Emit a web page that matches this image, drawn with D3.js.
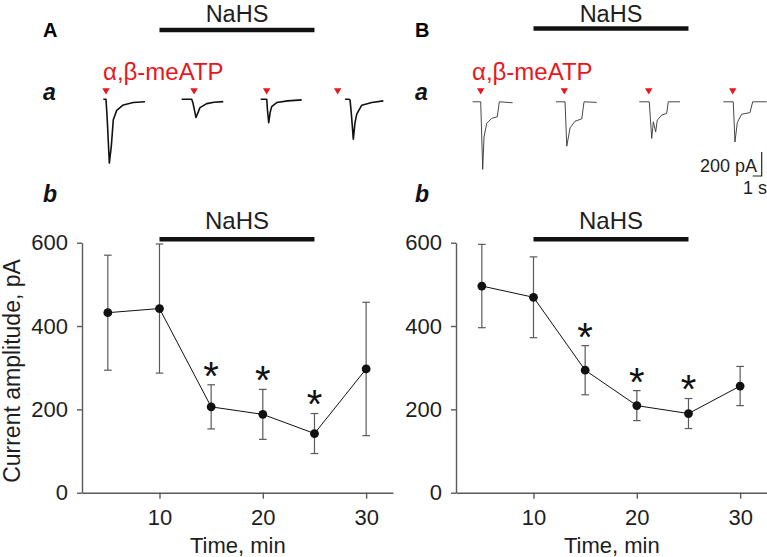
<!DOCTYPE html>
<html><head><meta charset="utf-8">
<script src="https://cdn.jsdelivr.net/npm/d3@7"></script>
<style>
html,body{margin:0;padding:0;background:#fff;}
svg{display:block;font-family:"Liberation Sans",Arial,Helvetica,sans-serif;}
</style></head>
<body>
<svg id="c" width="767" height="557"></svg>
<script>
// ---------- data ----------
const times = [5, 10, 15, 20, 25, 30];               // min
const meanA = [432, 442, 206, 188, 142, 297];        // pA
const semA  = [138, 155, 53, 60, 48, 160];
const meanB = [496, 469, 294, 209, 190, 256];
const semB  = [100, 97, 59, 36, 36, 47];
const sigA  = [15, 20, 25];
const sigB  = [15, 20, 25];
const nahsPeriod = [10, 25];
const yTicks = [0, 200, 400, 600];
const xTicks = [10, 20, 30];

// example current traces: [time (s) from sweep start, current (pA)]
const sweepStartA = [0, 8.71, 17.49, 26.86];
const stimA = [0.30, 10.08, 18.15, 26.04];
const tracesA = [
  [[0,0],[0.30,0],[0.44,-171],[0.67,-532],[0.89,-392],[1.11,-171],[1.49,-93],[2.22,-48],[3.33,-27],[4.63,-21]],
  [[0,0],[1.11,0],[1.25,-30],[1.59,-153],[2.03,-70],[2.78,-37],[3.6,-26],[4.62,-20]],
  [[0,0],[0.67,0],[0.75,-90],[0.89,-195],[1.05,-110],[1.22,-62],[1.78,-28],[3.0,-14],[4.56,-6]],
  [[0,0],[0.45,0],[0.56,-8],[0.70,-120],[0.92,-333],[1.10,-200],[1.30,-125],[1.86,-50],[2.97,-28],[4.26,-14]]
];
const sweepStartB = [0, 9.26, 18.51, 27.84];
const stimB = [0.89, 10.18, 19.56, 28.89];
const tracesB = [
  [[0,0],[0.89,0],[1.11,-563],[1.26,-292],[1.56,-180],[2.11,-138],[2.73,-125],[2.96,0],[4.44,-8]],
  [[0,0],[1.0,0],[1.19,-370],[1.56,-217],[2.11,-162],[2.86,-142],[3.11,0],[4.52,-5]],
  [[0,0],[1.11,0],[1.38,-305],[1.56,-167],[1.82,-250],[2.0,-153],[2.49,-111],[3.04,-97],[3.22,0],[4.52,0]],
  [[0,0],[1.11,0],[1.30,-335],[1.56,-173],[2.04,-104],[2.97,-90],[3.27,0],[4.82,0]]
];
const scaleBarPA = 200, scaleBarS = 1;

// ---------- drawing ----------
const svg = d3.select("#c");
const FONT = '"Liberation Sans",Arial,Helvetica,sans-serif';
const axisCol = "#5a5a5a", txtCol = "#1e1e1e", red = "#e8161d";

const y = d3.scaleLinear().domain([0, 600]).range([492.7, 242.7]);
const xA = d3.scaleLinear().domain([2.5, 32.6]).range([82, 393]);
const xB = d3.scaleLinear().domain([2.5, 32.6]).range([456, 767]);

// trace scales (1 s = 9 px, 200 pA = 24 px)
const tyScale = d3.scaleLinear().domain([0, -200]).range([0, 24]);
const txA = d3.scaleLinear().domain([0, 1]).range([103.3, 112.3]);
const txB = d3.scaleLinear().domain([0, 1]).range([472.7, 481.7]);

function panel(opts) {
  const {x, mean, sem, sig, tx, sweepStart, stim, traces, letter, letterX, traceBase, traceW, traceCol, topBarY, topLabelY, lblX} = opts;
  const g = svg.append("g");

  // panel letter
  g.append("text").attr("x", letterX).attr("y", 37).attr("font-size", 20).attr("font-weight", "bold")
    .attr("fill", "#000").text(letter);
  g.append("text").attr("x", letterX).attr("y", 100).attr("font-size", 23).attr("font-weight", "bold")
    .attr("font-style", "italic").attr("fill", "#111").text("a");
  g.append("text").attr("x", letterX).attr("y", 202).attr("font-size", 23).attr("font-weight", "bold")
    .attr("font-style", "italic").attr("fill", "#111").text("b");

  // top NaHS bar
  g.append("line").attr("x1", x(nahsPeriod[0])).attr("x2", x(nahsPeriod[1]))
    .attr("y1", topBarY).attr("y2", topBarY).attr("stroke", "#111").attr("stroke-width", 4.6);
  g.append("text").attr("x", (x(nahsPeriod[0]) + x(nahsPeriod[1])) / 2).attr("y", topLabelY)
    .attr("text-anchor", "middle").attr("font-size", 23.5).attr("fill", txtCol).text("NaHS");

  // agonist label
  g.append("text").attr("x", lblX).attr("y", 80).attr("font-size", 24).attr("fill", red).text("α,β-meATP");

  // stimulus markers
  const tri = d3.symbol().type(d3.symbolTriangle).size(24);
  g.selectAll(".stim").data(stim).join("path")
    .attr("d", tri).attr("fill", red)
    .attr("transform", d => `translate(${tx(d)},90.3) rotate(180)`);

  // traces
  traces.forEach((tr, i) => {
    const line = d3.line().x(d => tx(sweepStart[i] + d[0])).y(d => traceBase + tyScale(d[1]));
    g.append("path").attr("d", line(tr)).attr("fill", "none").attr("stroke", traceCol)
      .attr("stroke-width", traceW).attr("stroke-linejoin", "round");
  });

  // axes
  const ya = g.append("g").attr("transform", `translate(${x.range()[0]},0)`)
    .call(d3.axisLeft(y).tickValues(yTicks).tickSize(5).tickSizeOuter(0).tickPadding(9));
  const xa = g.append("g").attr("transform", `translate(0,${y(0)})`)
    .call(d3.axisBottom(x).tickValues(xTicks).tickSize(6).tickSizeOuter(0).tickPadding(11));
  [ya, xa].forEach(a => {
    a.selectAll("path,line").attr("stroke", axisCol).attr("stroke-width", 1.4);
    a.selectAll("text").attr("font-size", 22).attr("font-family", FONT).attr("fill", txtCol);
  });

  g.append("text").attr("x", (x(10) + x(30)) / 2 - 25).attr("y", 552.5).attr("text-anchor", "middle")
    .attr("font-size", 22).attr("fill", txtCol).text("Time, min");

  // bottom NaHS bar
  g.append("line").attr("x1", x(nahsPeriod[0])).attr("x2", x(nahsPeriod[1]))
    .attr("y1", 239.3).attr("y2", 239.3).attr("stroke", "#111").attr("stroke-width", 4.6);
  g.append("text").attr("x", (x(nahsPeriod[0]) + x(nahsPeriod[1])) / 2).attr("y", 228.5)
    .attr("text-anchor", "middle").attr("font-size", 24).attr("fill", txtCol).text("NaHS");

  // error bars
  const data = times.map((t, i) => ({t, m: mean[i], s: sem[i]}));
  const eb = g.append("g").attr("stroke", axisCol).attr("stroke-width", 1.2);
  data.forEach(d => {
    eb.append("line").attr("x1", x(d.t)).attr("x2", x(d.t)).attr("y1", y(d.m - d.s)).attr("y2", y(d.m + d.s));
    [d.m - d.s, d.m + d.s].forEach(v => eb.append("line").attr("x1", x(d.t) - 3.8).attr("x2", x(d.t) + 3.8)
      .attr("y1", y(v)).attr("y2", y(v)));
  });

  // mean line and dots
  g.append("path").attr("d", d3.line().x(d => x(d.t)).y(d => y(d.m))(data))
    .attr("fill", "none").attr("stroke", "#111").attr("stroke-width", 1);
  g.selectAll(".dot").data(data).join("circle").attr("cx", d => x(d.t)).attr("cy", d => y(d.m))
    .attr("r", 4.4).attr("fill", "#111");

  // significance
  g.selectAll(".sig").data(data.filter(d => sig.includes(d.t))).join("text")
    .attr("x", d => x(d.t)).attr("y", d => y(d.m + d.s) - 18.5 + 23.4)
    .attr("text-anchor", "middle").attr("font-size", 40).attr("fill", "#111").text("*");
}

panel({x: xA, mean: meanA, sem: semA, sig: sigA, tx: txA, sweepStart: sweepStartA, stim: stimA, traces: tracesA,
  letter: "A", letterX: 43, traceBase: 99.2, traceW: 1.6, traceCol: "#111", topBarY: 30, topLabelY: 22, lblX: 103});
panel({x: xB, mean: meanB, sem: semB, sig: sigB, tx: txB, sweepStart: sweepStartB, stim: stimB, traces: tracesB,
  letter: "B", letterX: 415, traceBase: 101.8, traceW: 0.9, traceCol: "#333", topBarY: 28.5, topLabelY: 21.5, lblX: 472});

// y-axis title
svg.append("text").attr("transform", `translate(19.5,371) rotate(-90)`).attr("text-anchor", "middle")
  .attr("font-size", 23).attr("fill", txtCol).text("Current amplitude, pA");

// scale bar (traces)
const sbX = 761.7, sbY = 176;
svg.append("path").attr("d", d3.line()([
    [sbX, sbY + tyScale(scaleBarPA)], [sbX, sbY], [sbX - (txB(scaleBarS) - txB(0)), sbY]]))
  .attr("fill", "none").attr("stroke", "#222").attr("stroke-width", 1.2);
svg.append("text").attr("x", 757).attr("y", 172).attr("text-anchor", "end").attr("font-size", 18)
  .attr("fill", txtCol).text("200 pA");
svg.append("text").attr("x", 767).attr("y", 194).attr("text-anchor", "end").attr("font-size", 18)
  .attr("fill", txtCol).text("1 s");
</script>
</body></html>
